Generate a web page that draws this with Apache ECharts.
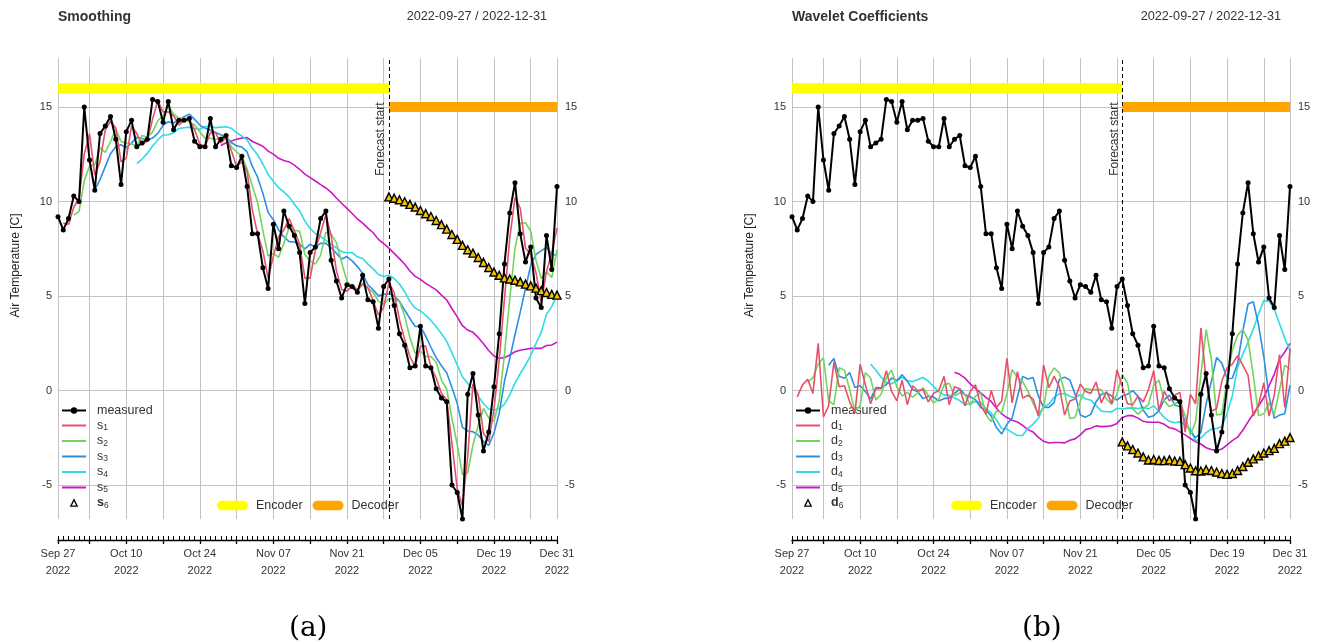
<!DOCTYPE html>
<html>
<head>
<meta charset="utf-8">
<script src="https://cdn.jsdelivr.net/npm/echarts@6/dist/echarts.min.js"></script>
<style>
  html, body { margin: 0; padding: 0; background: #fff; }
  #chart { width: 1317px; height: 644px; }
</style>
</head>
<body>
<div id="chart"></div>
<script>
// ---- daily axis ----
const dates = [
  '2022-09-27','2022-09-28','2022-09-29','2022-09-30',
  '2022-10-01','2022-10-02','2022-10-03','2022-10-04','2022-10-05','2022-10-06','2022-10-07','2022-10-08','2022-10-09','2022-10-10',
  '2022-10-11','2022-10-12','2022-10-13','2022-10-14','2022-10-15','2022-10-16','2022-10-17','2022-10-18','2022-10-19','2022-10-20',
  '2022-10-21','2022-10-22','2022-10-23','2022-10-24','2022-10-25','2022-10-26','2022-10-27','2022-10-28','2022-10-29','2022-10-30','2022-10-31',
  '2022-11-01','2022-11-02','2022-11-03','2022-11-04','2022-11-05','2022-11-06','2022-11-07','2022-11-08','2022-11-09','2022-11-10',
  '2022-11-11','2022-11-12','2022-11-13','2022-11-14','2022-11-15','2022-11-16','2022-11-17','2022-11-18','2022-11-19','2022-11-20',
  '2022-11-21','2022-11-22','2022-11-23','2022-11-24','2022-11-25','2022-11-26','2022-11-27','2022-11-28','2022-11-29','2022-11-30',
  '2022-12-01','2022-12-02','2022-12-03','2022-12-04','2022-12-05','2022-12-06','2022-12-07','2022-12-08','2022-12-09','2022-12-10',
  '2022-12-11','2022-12-12','2022-12-13','2022-12-14','2022-12-15','2022-12-16','2022-12-17','2022-12-18','2022-12-19','2022-12-20',
  '2022-12-21','2022-12-22','2022-12-23','2022-12-24','2022-12-25','2022-12-26','2022-12-27','2022-12-28','2022-12-29','2022-12-30','2022-12-31'
];
// weekly grid lines (Mondays plus both ends) and the labelled dates
const gridDates = ['2022-09-27','2022-10-03','2022-10-10','2022-10-17','2022-10-24','2022-10-31','2022-11-07',
  '2022-11-14','2022-11-21','2022-11-28','2022-12-05','2022-12-12','2022-12-19','2022-12-26','2022-12-31'];
const labelDates = ['2022-09-27','2022-10-10','2022-10-24','2022-11-07','2022-11-21','2022-12-05','2022-12-19','2022-12-31'];
const monthNames = ['Jan','Feb','Mar','Apr','May','Jun','Jul','Aug','Sep','Oct','Nov','Dec'];
const yTicks = [-5, 0, 5, 10, 15];
const dateRangeText = '2022-09-27 / 2022-12-31';

// ---- air temperature, daily ----
const measured = [
  9.2, 8.5, 9.1, 10.3, 10.0, 15.0, 12.2, 10.6, 13.6, 14.0,
  14.5, 13.3, 10.9, 13.7, 14.3, 12.9, 13.1, 13.3, 15.4, 15.3,
  14.2, 15.3, 13.8, 14.3, 14.3, 14.4, 13.2, 12.9, 12.9, 14.4,
  12.9, 13.3, 13.5, 11.9, 11.8, 12.4, 10.8, 8.3, 8.3, 6.5,
  5.4, 8.8, 7.5, 9.5, 8.7, 8.2, 7.3, 4.6, 7.3, 7.6,
  9.1, 9.5, 6.9, 5.8, 4.9, 5.6, 5.5, 5.2, 6.1, 4.8,
  4.7, 3.3, 5.5, 5.9, 4.5, 3.0, 2.4, 1.2, 1.3, 3.4,
  1.3, 1.2, 0.1, -0.4, -0.6, -5.0, -5.4, -6.8, -0.2, 0.9,
  -1.3, -3.2, -2.2, 0.2, 3.0, 6.7, 9.4, 11.0, 8.3, 6.8,
  7.6, 4.9, 4.4, 8.2, 6.4, 10.8
];

// ---- smoothing levels (each list starts at its own first date) ----
const s1From = '2022-09-28';
const s1 = [
  8.85, 8.8, 9.7, 10.15, 12.5, 13.6, 11.4, 12.1, 13.8,
  14.25, 13.9, 12.1, 12.3, 14.0, 13.6, 13.0, 13.2, 14.35, 15.35,
  14.75, 14.75, 14.55, 14.05, 14.3, 14.35, 13.8, 13.05, 12.9, 13.65,
  13.65, 13.1, 13.4, 12.7, 11.85, 12.1, 11.6, 9.55, 8.3, 7.4,
  5.95, 7.1, 8.15, 8.5, 9.1, 8.45, 7.75, 5.95, 5.95, 7.45,
  8.35, 9.3, 8.2, 6.35, 5.35, 5.25, 5.55, 5.35, 5.65, 5.45,
  4.75, 4.0, 4.4, 5.7, 5.2, 3.75, 2.7, 1.8, 1.25, 2.35,
  2.35, 1.25, 0.65, -0.15, -0.5, -2.8, -5.2, -6.1, -3.5, 0.35,
  -0.2, -2.25, -2.7, -1.0, 1.6, 4.85, 8.05, 10.2, 9.65, 7.55,
  7.2, 6.25, 4.65, 6.3, 7.3, 8.6
];
const s2From = '2022-09-30';
const s2 = [
  9.28, 9.48, 11.1, 11.88, 11.95, 12.85, 12.6,
  13.18, 13.85, 13.18, 13.1, 13.05, 12.95, 13.5, 13.4, 13.68, 14.28,
  14.55, 15.05, 14.65, 14.4, 14.43, 14.2, 14.05, 13.7, 13.35, 13.35,
  13.28, 13.38, 13.53, 12.9, 12.63, 12.4, 11.73, 10.83, 9.95, 8.48,
  7.13, 7.25, 7.05, 7.8, 8.63, 8.48, 8.43, 7.2, 6.85, 6.7,
  7.15, 8.38, 8.28, 7.83, 6.78, 5.8, 5.45, 5.3, 5.6, 5.4,
  5.2, 4.73, 4.58, 4.85, 4.8, 4.73, 3.95, 2.78, 1.98, 2.08,
  1.8, 1.8, 1.5, 0.55, 0.08, -1.48, -2.85, -4.45, -4.35, -2.88,
  -1.85, -0.95, -1.45, -1.63, -0.55, 1.93, 4.83, 7.53, 8.85, 8.88,
  8.43, 6.9, 5.93, 6.28, 5.98, 7.45
];
const s3From = '2022-10-04';
const s3 = [
  10.61, 11.16, 11.85,
  12.53, 12.9, 13.01, 12.85, 13.11, 13.4, 13.34, 13.25, 13.36, 13.61,
  14.03, 14.23, 14.16, 14.34, 14.49, 14.63, 14.35, 14.05, 13.89, 13.78,
  13.66, 13.54, 13.44, 13.13, 12.95, 12.89, 12.63, 11.86, 11.29, 10.44,
  9.43, 9.04, 8.5, 8.14, 7.88, 7.86, 7.74, 7.5, 7.74, 7.59,
  7.79, 7.79, 7.56, 7.26, 6.96, 7.09, 6.86, 6.56, 6.19, 5.6,
  5.33, 5.01, 5.09, 5.13, 5.0, 4.73, 4.26, 3.81, 3.39, 3.4,
  2.88, 2.29, 1.74, 1.31, 0.94, 0.16, -0.68, -1.95, -2.14, -2.18,
  -2.35, -2.7, -2.9, -2.25, -1.2, 0.49, 1.69, 2.95, 4.15, 5.4,
  6.63, 7.21, 7.39, 7.58, 7.2, 7.18
];
const s4From = '2022-10-12';
const s4 = [
  12.01, 12.25, 12.55, 12.94, 13.26,
  13.52, 13.54, 13.64, 13.87, 13.91, 13.94, 13.86, 13.83, 13.96, 14.0,
  13.91, 13.94, 13.96, 13.88, 13.65, 13.47, 13.26, 12.82, 12.48, 11.99,
  11.43, 11.08, 10.73, 10.51, 10.25, 9.86, 9.51, 8.97, 8.58, 8.31,
  8.14, 7.96, 7.72, 7.56, 7.35, 7.29, 7.3, 7.08, 6.99, 6.69,
  6.44, 6.14, 6.03, 6.11, 5.93, 5.64, 5.23, 4.71, 4.36, 4.21,
  3.98, 3.71, 3.37, 3.02, 2.6, 1.99, 1.36, 0.73, 0.37, 0.06,
  -0.31, -0.69, -0.98, -1.04, -0.94, -0.73, -0.23, 0.39, 0.9, 1.35,
  1.86, 2.48, 3.09, 4.03, 4.44, 5.06
];
const s5From = '2022-10-28';
const s5 = [
  12.97, 13.11, 13.21, 13.3, 13.36, 13.39, 13.18, 13.06, 12.93,
  12.67, 12.51, 12.29, 12.17, 12.1, 11.93, 11.71, 11.45, 11.27, 11.09,
  10.9, 10.72, 10.49, 10.19, 9.91, 9.64, 9.37, 9.08, 8.86, 8.6,
  8.35, 8.0, 7.77, 7.54, 7.26, 6.98, 6.68, 6.33, 6.04, 5.88,
  5.67, 5.5, 5.33, 5.05, 4.79, 4.34, 3.9, 3.43, 3.2, 3.08,
  2.81, 2.48, 2.12, 1.83, 1.71, 1.74, 1.88, 2.05, 2.13, 2.18,
  2.23, 2.23, 2.23, 2.38, 2.41, 2.56
];
const s6From = '2022-11-29';
const s6 = [
  10.25, 10.18, 10.1, 9.99, 9.85, 9.71, 9.53,
  9.36, 9.21, 9.0, 8.78, 8.54, 8.26, 8.0, 7.68, 7.45, 7.27,
  7.04, 6.78, 6.51, 6.27, 6.1, 5.96, 5.9, 5.84, 5.75, 5.63,
  5.54, 5.42, 5.29, 5.19, 5.09, 5.05
];

// ---- wavelet coefficients ----
const d1From = '2022-09-28';
const d1 = [
  -0.35, 0.3, 0.6, -0.15, 2.5, -1.4, -0.8, 1.5, 0.2,
  0.25, -0.6, -1.2, 1.4, 0.3, -0.7, 0.1, 0.1, 1.05, -0.05,
  -0.55, 0.55, -0.75, 0.25, 0, 0.05, -0.6, -0.15, 0, 0.75,
  -0.75, 0.2, 0.1, -0.8, -0.05, 0.3, -0.8, -1.25, 0, -0.9,
  -0.55, 1.7, -0.65, 1.0, -0.4, -0.25, -0.45, -1.35, 1.35, 0.15,
  0.75, 0.2, -1.3, -0.55, -0.45, 0.35, -0.05, -0.15, 0.45, -0.65,
  -0.05, -0.7, 1.1, 0.2, -0.7, -0.75, -0.3, -0.6, 0.05, 1.05,
  -1.05, -0.05, -0.55, -0.25, -0.1, -2.2, -0.2, -0.7, 3.3, 0.55,
  -1.1, -0.95, 0.5, 1.2, 1.4, 1.85, 1.35, 0.8, -1.35, -0.75,
  0.4, -1.35, -0.25, 1.9, -0.9, 2.2
];
const d2From = '2022-09-30';
const d2 = [
  0.43, 0.68, 1.4, 1.73, -0.55, -0.75, 1.2,
  1.08, 0.05, -1.08, -0.8, 0.95, 0.65, -0.5, -0.2, 0.68, 1.08,
  0.2, -0.3, -0.1, -0.35, -0.13, 0.15, -0.25, -0.65, -0.45, 0.3,
  0.38, -0.28, -0.13, -0.2, -0.78, -0.3, -0.13, -1.28, -1.65, -1.08,
  -1.18, -0.15, 1.1, 0.7, 0.48, -0.03, -0.68, -1.25, -0.9, 0.75,
  1.2, 0.93, -0.08, -1.48, -1.43, -0.55, 0.1, 0.05, 0.05, 0.05,
  -0.45, -0.73, -0.18, 0.85, 0.4, -0.98, -1.25, -0.98, -0.73, 0.28,
  0.55, -0.55, -0.85, -0.7, -0.58, -1.33, -2.35, -1.65, 0.85, 3.23,
  1.65, -1.3, -1.25, 0.63, 2.15, 2.93, 3.23, 2.68, 0.8, -1.33,
  -1.23, -0.65, -1.28, 0.03, 1.33, 1.15
];
const d3From = '2022-10-04';
const d3 = [
  1.34, 1.69, 0.75,
  0.65, 0.95, 0.16, 0.25, -0.06, -0.45, 0.16, 0.15, 0.31, 0.66,
  0.53, 0.83, 0.49, 0.06, -0.06, -0.43, -0.3, -0.35, -0.54, -0.43,
  -0.39, -0.16, 0.09, -0.23, -0.33, -0.49, -0.9, -1.04, -1.34, -1.96,
  -2.3, -1.79, -1.45, -0.34, 0.75, 0.61, 0.69, -0.3, -0.89, -0.89,
  -0.64, 0.59, 0.71, 0.56, -0.19, -1.29, -1.41, -1.26, -0.59, -0.2,
  -0.13, -0.29, -0.51, -0.28, -0.2, 0, -0.31, -1.04, -1.41, -1.33,
  -1.08, -0.49, -0.24, -0.76, -0.86, -1.64, -2.18, -2.5, -2.21, -0.7,
  0.5, 1.75, 1.45, 0.63, 0.65, 1.44, 3.14, 4.58, 4.7, 3.48,
  1.8, -0.31, -1.46, -1.3, -1.23, 0.28
];
const d4From = '2022-10-12';
const d4 = [
  1.39, 1.09, 0.7, 0.42, 0.36,
  0.51, 0.69, 0.53, 0.47, 0.58, 0.69, 0.49, 0.22, -0.07, -0.23,
  -0.25, -0.4, -0.53, -0.75, -0.7, -0.58, -0.63, -0.96, -1.19, -1.55,
  -2.01, -2.04, -2.23, -2.38, -2.38, -2.0, -1.78, -1.47, -0.84, -0.73,
  -0.36, -0.18, -0.16, -0.3, -0.39, -0.21, -0.44, -0.51, -0.8, -1.09,
  -1.12, -1.13, -0.94, -0.98, -0.93, -0.92, -0.96, -0.89, -0.97, -0.81,
  -1.11, -1.42, -1.63, -1.71, -1.66, -1.83, -2.03, -2.68, -2.51, -2.23,
  -2.04, -2.01, -1.92, -1.21, -0.26, 1.22, 1.91, 2.56, 3.25, 4.05,
  4.76, 4.73, 4.29, 3.54, 2.76, 2.11
];
const d5From = '2022-10-28';
const d5 = [
  0.97, 0.86, 0.66, 0.35, 0.11, -0.13, -0.36, -0.58, -0.94,
  -1.24, -1.43, -1.57, -1.66, -1.85, -2.07, -2.2, -2.48, -2.69, -2.78,
  -2.75, -2.75, -2.77, -2.63, -2.56, -2.35, -2.07, -2.0, -1.87, -1.91,
  -1.9, -1.86, -1.74, -1.43, -1.33, -1.33, -1.46, -1.63, -1.68, -1.68,
  -1.68, -1.79, -1.97, -2.03, -2.19, -2.35, -2.54, -2.71, -2.83, -3.03,
  -3.12, -3.17, -3.1, -2.88, -2.65, -2.47, -2.1, -1.66, -1.23, -0.83,
  -0.37, 0.25, 0.87, 1.65, 2.04, 2.5
];
const d6From = '2022-11-29';
const d6 = [
  -2.72, -2.93, -3.12, -3.31, -3.51, -3.68, -3.65,
  -3.7, -3.71, -3.67, -3.73, -3.75, -3.92, -4.1, -4.25, -4.26, -4.19,
  -4.23, -4.31, -4.39, -4.44, -4.39, -4.23, -4.02, -3.8, -3.62, -3.45,
  -3.31, -3.18, -3.06, -2.81, -2.68, -2.49
];

// ---- model windows ----
const forecastStart = '2022-11-29';
const encoderSpan = ['2022-09-27', '2022-11-29'];
const decoderSpan = ['2022-11-29', '2022-12-31'];

// ---------------------------------------------------------------
const FONT = '"Liberation Sans", Arial, Helvetica, sans-serif';
const TEXT = '#333';
const GRIDLINE = '#c3c3c3';
const levelColors = ['#e5506b', '#72d45f', '#2b8fe3', '#2fdbe6', '#cc17c7'];
const yMin = -6.8, yMax = 17.6;
const encoderLevel = 16, decoderLevel = 15;
const forecastLabelTop = 15.35;   // where the rotated "Forecast start" caption ends

// place a list on the daily axis, starting at its first date
function onAxis(from, values) {
  const out = new Array(dates.length).fill(null);
  const start = dates.indexOf(from);
  values.forEach((v, i) => { out[start + i] = v; });
  return out;
}
const isGridDay = (i) => gridDates.indexOf(dates[i]) >= 0;
const isLabelDay = (i) => labelDates.indexOf(dates[i]) >= 0;
function dateLabel(v) {
  const [y, m, d] = v.split('-');
  return monthNames[+m - 1] + ' ' + d + '\n' + y;
}

const pill = 'path://M5,0 L27,0 A5,5 0 0 1 27,10 L5,10 A5,5 0 0 1 5,0 Z';

const grids = [], xAxes = [], yAxes = [], series = [], legends = [];

function buildPanel(p, left, width, levels, sixth) {
  grids.push({ left: left, top: 58, width: width, height: 461, containLabel: false });

  // daily minor ticks + axis line, weekly grid lines
  xAxes.push({
    type: 'category', gridIndex: p, data: dates, boundaryGap: false,
    position: 'bottom', offset: 21,
    axisLine: { show: true, onZero: false, lineStyle: { color: '#000', width: 1.3 } },
    axisTick: { show: true, interval: 0, inside: true, length: 4, lineStyle: { color: '#000', width: 1 } },
    axisLabel: { show: false },
    splitLine: { show: true, interval: isGridDay, lineStyle: { color: GRIDLINE, width: 1 } }
  });
  // weekly major ticks and date labels
  xAxes.push({
    type: 'category', gridIndex: p, data: dates, boundaryGap: false,
    position: 'bottom', offset: 21,
    axisLine: { show: false, onZero: false },
    axisTick: { show: true, interval: isGridDay, inside: false, length: 4, lineStyle: { color: '#000', width: 1.3 } },
    axisLabel: {
      show: true, interval: isLabelDay, formatter: dateLabel,
      fontSize: 11, color: TEXT, fontFamily: FONT, margin: 5, lineHeight: 17
    },
    splitLine: { show: false }
  });

  yAxes.push({
    type: 'value', gridIndex: p, position: 'left', min: yMin, max: yMax,
    axisLine: { show: false },
    axisTick: { show: false, customValues: yTicks },
    axisLabel: { customValues: yTicks, fontSize: 11, color: TEXT, fontFamily: FONT, margin: 6 },
    splitLine: { show: true, lineStyle: { color: GRIDLINE, width: 1 } },
    name: 'Air Temperature [C]', nameLocation: 'middle', nameGap: 36,
    nameTextStyle: { fontSize: 12, color: '#222', fontFamily: FONT, padding: [0, 0, 0, 46] }
  });
  yAxes.push({
    type: 'value', gridIndex: p, position: 'right', min: yMin, max: yMax,
    axisLine: { show: false },
    axisTick: { show: false, customValues: yTicks },
    axisLabel: { customValues: yTicks, fontSize: 11, color: TEXT, fontFamily: FONT, margin: 8 },
    splitLine: { show: false }
  });

  const xi = 2 * p, yi = 2 * p;

  // encoder / decoder windows
  series.push({
    name: 'Encoder', type: 'line', xAxisIndex: xi, yAxisIndex: yi, silent: true,
    data: [[encoderSpan[0], encoderLevel], [encoderSpan[1], encoderLevel]],
    symbol: 'none', lineStyle: { color: '#ffff00', width: 10, cap: 'butt' },
    itemStyle: { color: '#ffff00' }, z: 3
  });
  series.push({
    name: 'Decoder', type: 'line', xAxisIndex: xi, yAxisIndex: yi, silent: true,
    data: [[decoderSpan[0], decoderLevel], [decoderSpan[1], decoderLevel]],
    symbol: 'none', lineStyle: { color: '#ffa500', width: 10, cap: 'butt' },
    itemStyle: { color: '#ffa500' }, z: 3
  });

  // level lines, coarsest first
  for (let k = levels.length - 1; k >= 0; k--) {
    const lv = levels[k];
    series.push({
      name: lv.name, type: 'line', xAxisIndex: xi, yAxisIndex: yi,
      data: onAxis(lv.from, lv.values), symbol: 'none', connectNulls: false,
      lineStyle: { color: levelColors[k], width: 1.6 }, itemStyle: { color: levelColors[k] }, z: 4
    });
  }

  series.push({
    name: 'measured', type: 'line', xAxisIndex: xi, yAxisIndex: yi,
    data: measured, symbol: 'circle', symbolSize: 5, showAllSymbol: true,
    lineStyle: { color: '#000', width: 2 }, itemStyle: { color: '#000' }, z: 6,
    markLine: {
      silent: true, symbol: ['none', 'none'], animation: false,
      data: [
        { xAxis: forecastStart, lineStyle: { color: '#000', width: 1, type: [4, 3] }, label: { show: false } },
        [
          { coord: [forecastStart, yMin], lineStyle: { color: 'rgba(0,0,0,0)', width: 0 },
            label: { show: true, position: 'insideEndTop', formatter: 'Forecast start',
                     fontSize: 12, color: TEXT, fontFamily: FONT, distance: 2 } },
          { coord: [forecastStart, forecastLabelTop] }
        ]
      ]
    }
  });

  series.push({
    name: sixth.name, type: 'line', xAxisIndex: xi, yAxisIndex: yi,
    data: onAxis(sixth.from, sixth.values), symbol: 'triangle', symbolSize: 8, showAllSymbol: true,
    lineStyle: { width: 0, opacity: 0 },
    itemStyle: { color: '#f3c300', borderColor: '#000', borderWidth: 1.4 }, z: 7
  });

  legends.push({
    orient: 'vertical', left: left + 3, top: 404, padding: 0,
    itemWidth: 24, itemHeight: 8, itemGap: 2,
    selectedMode: false,
    data: [{ name: 'measured' }]
      .concat(levels.map(l => ({ name: l.name, itemStyle: { opacity: 0 } })))
      .concat([{ name: sixth.name, itemStyle: { color: '#fff', borderColor: '#000', borderWidth: 1.3 } }]),
    formatter: (name) => {
      if (name === 'measured') return '{n|measured}';
      const sym = name.charAt(0), idx = name.slice(1);
      return (idx === '6' ? '{bb|' + sym + '}' : '{n|' + sym + '}') + '{sub|' + idx + '}';
    },
    textStyle: {
      fontSize: 12.5, color: TEXT, fontFamily: FONT, padding: [0, 0, 0, 6],
      rich: {
        n: { fontSize: 12.5, color: TEXT, fontFamily: FONT },
        bb: { fontSize: 12.5, color: TEXT, fontFamily: FONT, fontWeight: 'bold' },
        sub: { fontSize: 8.5, color: TEXT, fontFamily: FONT, verticalAlign: 'bottom', padding: [5, 0, 0, 0] }
      }
    }
  });
  legends.push({
    orient: 'horizontal', left: left + 159, top: 499, padding: 0,
    itemWidth: 31, itemHeight: 10, itemGap: 10,
    selectedMode: false,
    data: [{ name: 'Encoder', icon: pill }, { name: 'Decoder', icon: pill }],
    textStyle: { fontSize: 12.5, color: TEXT, fontFamily: FONT, padding: [0, 0, 0, 3] }
  });
}

buildPanel(0, 58, 499,
  [{ name: 's1', from: s1From, values: s1 }, { name: 's2', from: s2From, values: s2 },
   { name: 's3', from: s3From, values: s3 }, { name: 's4', from: s4From, values: s4 },
   { name: 's5', from: s5From, values: s5 }],
  { name: 's6', from: s6From, values: s6 });
buildPanel(1, 792, 498,
  [{ name: 'd1', from: d1From, values: d1 }, { name: 'd2', from: d2From, values: d2 },
   { name: 'd3', from: d3From, values: d3 }, { name: 'd4', from: d4From, values: d4 },
   { name: 'd5', from: d5From, values: d5 }],
  { name: 'd6', from: d6From, values: d6 });

const titleStyle = { fontSize: 14, fontWeight: 'bold', color: TEXT, fontFamily: FONT };
const rangeStyle = { fontSize: 12.7, fontWeight: 'normal', color: TEXT, fontFamily: FONT };
const captionStyle = { fontSize: 28, fontWeight: 'normal', color: '#000', fontFamily: '"DejaVu Serif", "Liberation Serif", serif' };

const chart = echarts.init(document.getElementById('chart'), null, { renderer: 'canvas' });
chart.setOption({
  animation: false,
  backgroundColor: '#fff',
  textStyle: { fontFamily: FONT },
  title: [
    { text: 'Smoothing', left: 53, top: 5, textStyle: titleStyle },
    { text: dateRangeText, right: 765, top: 5, textStyle: rangeStyle },
    { text: 'Wavelet Coefficients', left: 787, top: 5, textStyle: titleStyle },
    { text: dateRangeText, right: 31, top: 5, textStyle: rangeStyle },
    { text: '(a)', left: 284, top: 610, textStyle: captionStyle },
    { text: '(b)', left: 1017, top: 610, textStyle: captionStyle }
  ],
  grid: grids,
  xAxis: xAxes,
  yAxis: yAxes,
  legend: legends,
  series: series
});
</script>
</body>
</html>
